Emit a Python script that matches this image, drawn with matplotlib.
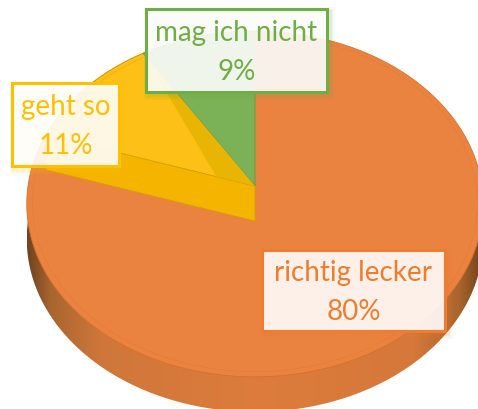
import numpy as np
import matplotlib
matplotlib.use('Agg')
import matplotlib.pyplot as plt
from matplotlib.patches import Polygon, Rectangle
from matplotlib.colors import LinearSegmentedColormap

labels = ['richtig lecker', 'geht so', 'mag ich nicht']
values = [80, 11, 9]
face_colors = ['#ea8340', '#fcc016', '#7cb257']
edge_colors = ['#ed7d31', '#ffc000', '#70ad47']

# pie geometry in pixels
apex_x, apex_y = 255, 187
depth = 35
A, B, k = 227, 171, 0.104

# label boxes: left, top, right, bottom
boxes = [(262, 251, 445, 332), (12, 84, 119, 167), (146, 10, 327, 93)]


def rim(deg, r=1.0):
    # perspective view of a circle, deg runs clockwise from 12 o'clock
    t = np.radians(deg)
    u, v = r * np.sin(t), r * np.cos(t)
    d = 1 + k * v
    return np.column_stack([apex_x + A * u / d, apex_y - B * v / d])


def sector(a0, a1, r=1.0):
    return np.vstack([[apex_x, apex_y], rim(np.linspace(a0, a1, 80), r)])


fig = plt.figure(figsize=(4.78, 4.10), dpi=100)
ax = fig.add_axes([0, 0, 1, 1])
ax.set_xlim(0, 478)
ax.set_ylim(410, 0)
ax.axis('off')

angles = np.cumsum([0] + values) * 3.6
circle = rim(np.linspace(0, 360, 361))

# side wall
wall_cmap = LinearSegmentedColormap.from_list(
    'wall', [(0, '#6f441f'), (0.05, '#a8652f'), (0.16, '#cf773a'), (0.5, '#dd7c3c'),
             (0.85, '#d5783a'), (0.95, '#a9652d'), (1, '#70431c')])
grad = np.linspace(0, 1, 256).reshape(1, -1)
wall_shape = circle + [0, depth]
im = ax.imshow(grad, cmap=wall_cmap, extent=(27, 483, 420, 180), aspect='auto', zorder=1)
wall_patch = Polygon(wall_shape, closed=True, transform=ax.transData, fc='none', ec='none')
ax.add_patch(wall_patch)
im.set_clip_path(wall_patch)
ax.set_xlim(0, 478)
ax.set_ylim(410, 0)

# top face
ax.add_patch(Polygon(circle, closed=True, fc=face_colors[0], ec='#d9702c', lw=0.6, zorder=2))

# inner wall of the cut, seen between the two small slices and the big one
p_edge = rim(angles[1])[0]
band = [[apex_x, apex_y], p_edge, p_edge + [0, depth], [apex_x, apex_y + depth]]
ax.add_patch(Polygon(band, closed=True, fc='#f4b400', ec='#d8a000', lw=0.6, zorder=3))

ax.add_patch(Polygon(sector(angles[1], angles[2]), closed=True, fc=face_colors[1],
                     ec='#d8a000', lw=0.6, zorder=4))
ax.add_patch(Polygon(sector(angles[2], angles[3]), closed=True, fc=face_colors[2],
                     ec='#5f9a3c', lw=0.6, zorder=4))

# darker strip on the yellow slice next to the green one
strip = np.vstack([rim(angles[2]), [[apex_x, apex_y]], rim(angles[1], 0.18)])
ax.add_patch(Polygon(strip, closed=True, fc='#e9b505', ec='none', zorder=5))

# faint ring close to the rim
ring = rim(np.linspace(0, 360, 361), 0.975)
ax.plot(ring[:, 0], ring[:, 1], color='#c8641e', lw=0.5, alpha=0.2, zorder=6)

# labels
for name, val, col, (x0, y0, x1, y1) in zip(labels, values, edge_colors, boxes):
    for grow, alpha in [(5, 0.05), (3.5, 0.07), (2, 0.1)]:
        ax.add_patch(Rectangle((x0 + 3 - grow, y0 + 3 - grow), x1 - x0 + 2 * grow, y1 - y0 + 2 * grow,
                               fc=col, ec='none', alpha=alpha, zorder=7))
    ax.add_patch(Rectangle((x0, y0), x1 - x0, y1 - y0, fc='white', ec='none', alpha=0.89, zorder=8))
    ax.add_patch(Rectangle((x0, y0), x1 - x0, y1 - y0, fc='none', ec=col, lw=2.2, zorder=9))
    ax.text((x0 + x1) / 2, (y0 + y1) / 2 + 1, f'{name}\n{val}%', color=col, fontsize=20,
            family='Lato', ha='center', va='center', linespacing=1.6, zorder=10)

fig.savefig('out.png', dpi=100)
